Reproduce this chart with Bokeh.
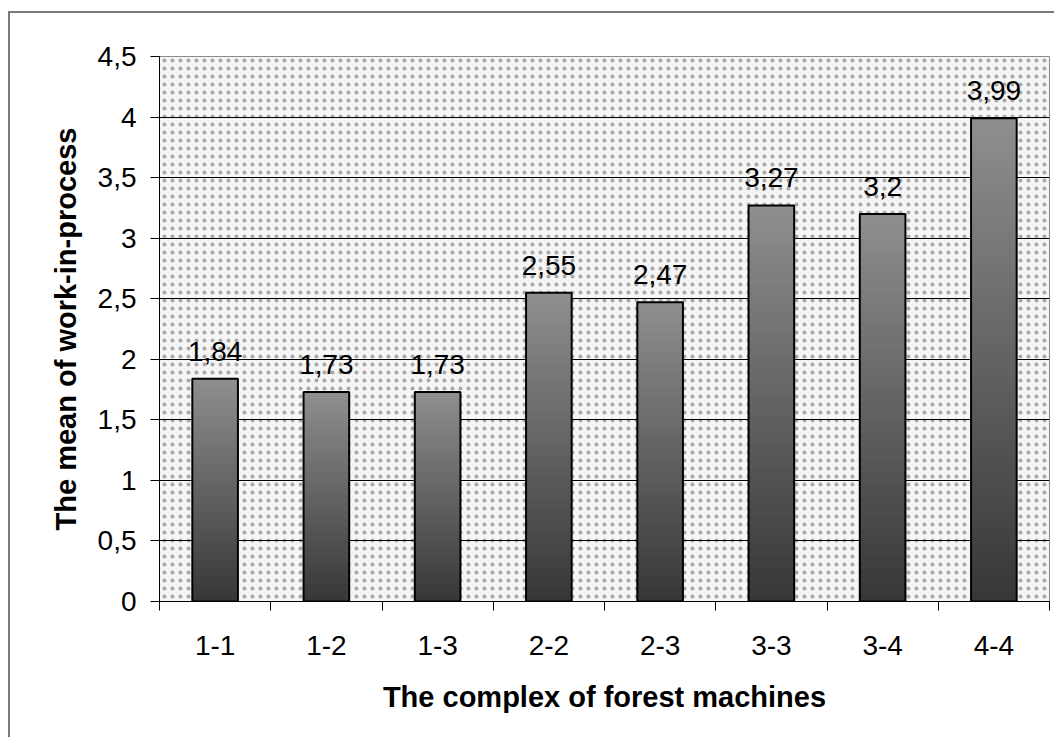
from bokeh.plotting import figure
from bokeh.models import Range1d, FixedTicker, BoxAnnotation, ColumnDataSource, LabelSet, CustomJSTickFormatter
from bokeh.core.properties import value
from bokeh.embed import file_html
from bokeh.resources import INLINE

categories = ["1-1", "1-2", "1-3", "2-2", "2-3", "3-3", "3-4", "4-4"]
values = [1.84, 1.73, 1.73, 2.55, 2.47, 3.27, 3.2, 3.99]
value_labels = ["1,84", "1,73", "1,73", "2,55", "2,47", "3,27", "3,2", "3,99"]
y_ticks = [0, 0.5, 1, 1.5, 2, 2.5, 3, 3.5, 4, 4.5]

FONT = "Liberation Sans"
FS = "28px"
H = 737
xs = [i + 0.5 for i in range(len(categories))]
bounds = list(range(len(categories) + 1))

p = figure(frame_width=890, frame_height=545,
           x_range=Range1d(0, len(categories)), y_range=Range1d(0, 4.5),
           output_backend="svg", toolbar_location=None,
           min_border_left=159, min_border_top=56, min_border_right=5, min_border_bottom=H - 601)

p.background_fill_color = "#f5f5f5"
p.border_fill_color = None
p.border_fill_alpha = 0
p.outline_line_color = "#8a8a8a"
p.outline_line_width = 1

# outer border line (left and top visible) drawn as CSS background of the host
p.styles = {
    "background-color": "white",
    "background-image": "linear-gradient(#7a7a7a, #7a7a7a), linear-gradient(#7a7a7a, #7a7a7a)",
    "background-size": "2px 100%, 100% 2px",
    "background-position": "8px 11px, 8px 11px",
    "background-repeat": "no-repeat",
}

# dotted pattern
p.add_layout(BoxAnnotation(level="image", fill_alpha=0, line_alpha=0,
                           hatch_pattern="dot", hatch_color="#a8a8a8",
                           hatch_scale=8, hatch_weight=0.6))

# gradient bars
N = 60
top_c = (0x8e, 0x8e, 0x8e)
bot_c = (0x36, 0x36, 0x36)
for k in range(N):
    f = 1 - k / N
    c = tuple(int(round(bot_c[j] + (top_c[j] - bot_c[j]) * f)) for j in range(3))
    col = "#%02x%02x%02x" % c
    p.vbar(x=xs, width=0.41, bottom=0, top=[v * f for v in values],
           fill_color=col, line_color=None)

p.vbar(x=xs, width=0.41, bottom=0, top=values, fill_alpha=0,
       line_color="black", line_width=2)

src = ColumnDataSource(dict(x=xs, v=values, lab=value_labels))
p.add_layout(LabelSet(x="x", y="v", text="lab", source=src, y_offset=18,
                      text_align="center", text_baseline="bottom",
                      text_font=value(FONT), text_font_size=FS, text_color="black"))

# grid
p.xgrid.visible = False
p.ygrid.ticker = FixedTicker(ticks=y_ticks[1:-1])
p.ygrid.grid_line_color = "black"
p.ygrid.grid_line_width = 1
p.ygrid.level = "underlay"

# y axis
p.yaxis.ticker = FixedTicker(ticks=y_ticks)
p.yaxis.formatter = CustomJSTickFormatter(code="return String(tick).replace('.', ',');")
p.yaxis.major_tick_out = 9
p.yaxis.major_tick_in = 0
p.yaxis.minor_tick_line_color = None
p.yaxis.axis_line_color = "black"
p.yaxis.major_tick_line_color = "black"
p.yaxis.major_label_text_font = FONT
p.yaxis.major_label_text_font_size = FS
p.yaxis.major_label_text_color = "black"
p.yaxis.major_label_standoff = 14
p.yaxis.axis_label = "The mean of work-in-process"
p.yaxis.axis_label_text_font = FONT
p.yaxis.axis_label_text_font_size = "29px"
p.yaxis.axis_label_text_font_style = "bold"
p.yaxis.axis_label_text_color = "black"
p.yaxis.axis_label_standoff = 13

# x axis
p.xaxis.ticker = FixedTicker(ticks=xs, minor_ticks=bounds)
p.xaxis.formatter = CustomJSTickFormatter(args=dict(cats=categories),
                                          code="return cats[Math.floor(tick)];")
p.xaxis.major_tick_out = 0
p.xaxis.major_tick_in = 0
p.xaxis.minor_tick_out = 9
p.xaxis.minor_tick_in = 0
p.xaxis.minor_tick_line_color = "black"
p.xaxis.axis_line_color = "black"
p.xaxis.major_label_text_font = FONT
p.xaxis.major_label_text_font_size = FS
p.xaxis.major_label_text_color = "black"
p.xaxis.major_label_standoff = 25
p.xaxis.axis_label = "The complex of forest machines"
p.xaxis.axis_label_text_font = FONT
p.xaxis.axis_label_text_font_size = "29px"
p.xaxis.axis_label_text_font_style = "bold"
p.xaxis.axis_label_text_color = "black"
p.xaxis.axis_label_standoff = 23

open("out.html", "w").write(file_html(p, INLINE))
